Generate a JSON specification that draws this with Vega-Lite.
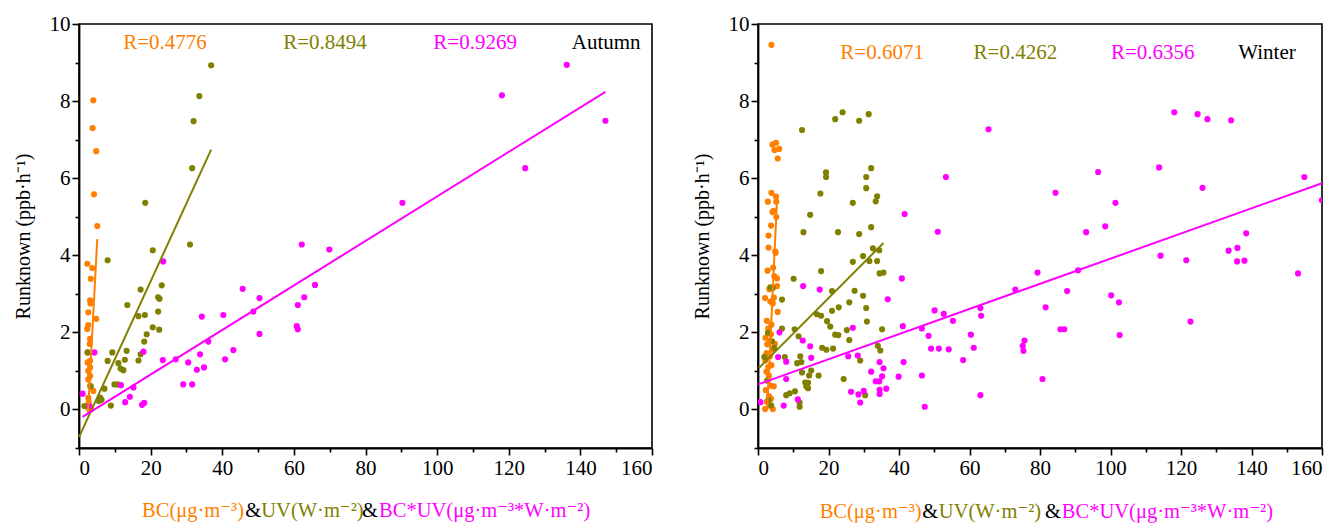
{
  "$schema": "https://vega.github.io/schema/vega-lite/v6.json",
  "padding": {"left": 12, "top": 12, "right": 5, "bottom": 5},
  "background": "white",
  "spacing": 106,
  "bounds": "flush",
  "config": {
    "font": "\"Liberation Serif\", \"Times New Roman\", serif",
    "text": {"font": "'Liberation Serif', 'Times New Roman', 'DejaVu Serif', serif"},
    "style": {
      "guide-label": {"font": "\"Liberation Serif\", \"Times New Roman\", serif"},
      "guide-title": {"font": "\"Liberation Serif\", \"Times New Roman\", serif"}
    },
    "view": {"stroke": "#000000", "strokeWidth": 1.6},
    "axis": {
      "domainColor": "#000000", "domainWidth": 1.8, "tickColor": "#000000", "tickWidth": 1.6,
      "labelFont": "\"Liberation Serif\", \"Times New Roman\", serif", "titleFont": "\"Liberation Serif\", \"Times New Roman\", serif",
      "labelFontSize": 21, "labelColor": "#000000",
      "titleFontSize": 20, "titleFontWeight": "normal", "titleColor": "#000000",
      "grid": false
    }
  },
  "datasets": {
    "autumn": [
      {"x":4.0,"y":8.02,"s":"BC"},{"x":3.8,"y":7.30,"s":"BC"},{"x":4.8,"y":6.70,"s":"BC"},{"x":4.2,"y":5.58,"s":"BC"},{"x":5.1,"y":4.76,"s":"BC"},{"x":2.3,"y":3.78,"s":"BC"},{"x":3.7,"y":3.67,"s":"BC"},{"x":3.3,"y":3.39,"s":"BC"},{"x":3.1,"y":2.83,"s":"BC"},{"x":3.2,"y":2.75,"s":"BC"},{"x":2.6,"y":2.52,"s":"BC"},{"x":4.8,"y":2.35,"s":"BC"},{"x":2.6,"y":2.19,"s":"BC"},{"x":2.3,"y":2.09,"s":"BC"},{"x":3.1,"y":1.83,"s":"BC"},{"x":3.0,"y":1.70,"s":"BC"},{"x":2.4,"y":1.48,"s":"BC"},{"x":3.1,"y":1.26,"s":"BC"},{"x":2.4,"y":1.22,"s":"BC"},{"x":3.1,"y":1.09,"s":"BC"},{"x":2.6,"y":1.00,"s":"BC"},{"x":3.1,"y":0.87,"s":"BC"},{"x":2.6,"y":0.78,"s":"BC"},{"x":3.1,"y":0.61,"s":"BC"},{"x":4.0,"y":0.48,"s":"BC"},{"x":2.6,"y":0.30,"s":"BC"},{"x":2.9,"y":0.09,"s":"BC"},{"x":2.4,"y":0.05,"s":"BC"},{"x":3.3,"y":0.0,"s":"BC"},{"x":2.7,"y":0.2,"s":"BC"},
      {"x":36.9,"y":8.93,"s":"UV"},{"x":33.6,"y":8.13,"s":"UV"},{"x":32.0,"y":7.48,"s":"UV"},{"x":31.6,"y":6.26,"s":"UV"},{"x":18.5,"y":5.36,"s":"UV"},{"x":20.6,"y":4.13,"s":"UV"},{"x":31.0,"y":4.28,"s":"UV"},{"x":8.0,"y":3.87,"s":"UV"},{"x":23.1,"y":3.22,"s":"UV"},{"x":17.2,"y":3.11,"s":"UV"},{"x":13.5,"y":2.71,"s":"UV"},{"x":22.1,"y":2.91,"s":"UV"},{"x":22.5,"y":2.87,"s":"UV"},{"x":22.1,"y":2.54,"s":"UV"},{"x":16.6,"y":2.42,"s":"UV"},{"x":18.4,"y":2.45,"s":"UV"},{"x":20.6,"y":2.13,"s":"UV"},{"x":22.4,"y":2.07,"s":"UV"},{"x":18.9,"y":1.95,"s":"UV"},{"x":18.2,"y":1.76,"s":"UV"},{"x":13.3,"y":1.52,"s":"UV"},{"x":9.3,"y":1.48,"s":"UV"},{"x":17.2,"y":1.43,"s":"UV"},{"x":8.0,"y":1.26,"s":"UV"},{"x":12.8,"y":1.29,"s":"UV"},{"x":16.6,"y":1.27,"s":"UV"},{"x":11.0,"y":1.20,"s":"UV"},{"x":11.6,"y":1.06,"s":"UV"},{"x":12.4,"y":1.02,"s":"UV"},{"x":9.9,"y":0.65,"s":"UV"},{"x":10.8,"y":0.65,"s":"UV"},{"x":7.1,"y":0.54,"s":"UV"},{"x":5.9,"y":0.31,"s":"UV"},{"x":6.3,"y":0.25,"s":"UV"},{"x":5.5,"y":0.22,"s":"UV"},{"x":8.9,"y":0.10,"s":"UV"},{"x":1.5,"y":0.09,"s":"UV"},{"x":2.4,"y":1.48,"s":"UV"},{"x":3.3,"y":0.6,"s":"UV"},
      {"x":136.2,"y":8.94,"s":"BCUV"},{"x":118.1,"y":8.15,"s":"BCUV"},{"x":147.0,"y":7.49,"s":"BCUV"},{"x":124.6,"y":6.26,"s":"BCUV"},{"x":90.3,"y":5.36,"s":"BCUV"},{"x":69.9,"y":4.15,"s":"BCUV"},{"x":62.2,"y":4.28,"s":"BCUV"},{"x":65.9,"y":3.23,"s":"BCUV"},{"x":62.9,"y":2.91,"s":"BCUV"},{"x":61.1,"y":2.71,"s":"BCUV"},{"x":60.8,"y":2.16,"s":"BCUV"},{"x":61.1,"y":2.08,"s":"BCUV"},{"x":45.7,"y":3.13,"s":"BCUV"},{"x":50.4,"y":2.89,"s":"BCUV"},{"x":48.7,"y":2.54,"s":"BCUV"},{"x":50.4,"y":1.96,"s":"BCUV"},{"x":40.3,"y":2.45,"s":"BCUV"},{"x":34.3,"y":2.41,"s":"BCUV"},{"x":43.1,"y":1.54,"s":"BCUV"},{"x":36.1,"y":1.76,"s":"BCUV"},{"x":33.8,"y":1.43,"s":"BCUV"},{"x":40.8,"y":1.30,"s":"BCUV"},{"x":27.0,"y":1.30,"s":"BCUV"},{"x":23.4,"y":1.28,"s":"BCUV"},{"x":30.5,"y":1.22,"s":"BCUV"},{"x":32.9,"y":1.03,"s":"BCUV"},{"x":34.9,"y":1.09,"s":"BCUV"},{"x":29.1,"y":0.65,"s":"BCUV"},{"x":31.6,"y":0.65,"s":"BCUV"},{"x":23.5,"y":3.84,"s":"BCUV"},{"x":4.3,"y":1.48,"s":"BCUV"},{"x":18.0,"y":1.50,"s":"BCUV"},{"x":11.7,"y":0.63,"s":"BCUV"},{"x":15.2,"y":0.57,"s":"BCUV"},{"x":14.2,"y":0.33,"s":"BCUV"},{"x":12.9,"y":0.19,"s":"BCUV"},{"x":18.2,"y":0.17,"s":"BCUV"},{"x":17.6,"y":0.12,"s":"BCUV"},{"x":1.0,"y":0.41,"s":"BCUV"},{"x":2.9,"y":0.09,"s":"BCUV"}
    ],
    "winter": [
      {"x":3.8,"y":9.46,"s":"BC"},{"x":4.1,"y":6.87,"s":"BC"},{"x":5.1,"y":6.92,"s":"BC"},{"x":4.7,"y":6.73,"s":"BC"},{"x":6.0,"y":6.76,"s":"BC"},{"x":5.6,"y":6.51,"s":"BC"},{"x":3.8,"y":5.62,"s":"BC"},{"x":2.8,"y":5.39,"s":"BC"},{"x":5.1,"y":5.52,"s":"BC"},{"x":5.2,"y":5.39,"s":"BC"},{"x":4.1,"y":5.12,"s":"BC"},{"x":5.2,"y":4.99,"s":"BC"},{"x":4.4,"y":5.15,"s":"BC"},{"x":3.0,"y":4.51,"s":"BC"},{"x":3.7,"y":4.77,"s":"BC"},{"x":3.0,"y":4.2,"s":"BC"},{"x":4.9,"y":4.1,"s":"BC"},{"x":5.0,"y":4.06,"s":"BC"},{"x":4.3,"y":3.68,"s":"BC"},{"x":4.6,"y":3.46,"s":"BC"},{"x":5.4,"y":3.4,"s":"BC"},{"x":5.4,"y":3.2,"s":"BC"},{"x":3.2,"y":3.12,"s":"BC"},{"x":2.0,"y":2.89,"s":"BC"},{"x":4.2,"y":2.75,"s":"BC"},{"x":3.5,"y":2.8,"s":"BC"},{"x":5.6,"y":2.53,"s":"BC"},{"x":2.5,"y":2.3,"s":"BC"},{"x":3.8,"y":2.2,"s":"BC"},{"x":2.9,"y":2.1,"s":"BC"},{"x":3.7,"y":1.95,"s":"BC"},{"x":2.1,"y":1.86,"s":"BC"},{"x":3.2,"y":1.78,"s":"BC"},{"x":2.6,"y":1.69,"s":"BC"},{"x":4.0,"y":1.55,"s":"BC"},{"x":2.4,"y":1.46,"s":"BC"},{"x":3.4,"y":1.38,"s":"BC"},{"x":2.1,"y":1.27,"s":"BC"},{"x":3.8,"y":1.15,"s":"BC"},{"x":2.9,"y":1.1,"s":"BC"},{"x":2.4,"y":0.98,"s":"BC"},{"x":3.1,"y":0.87,"s":"BC"},{"x":2.8,"y":0.75,"s":"BC"},{"x":3.6,"y":0.62,"s":"BC"},{"x":2.2,"y":0.5,"s":"BC"},{"x":3.1,"y":0.35,"s":"BC"},{"x":2.5,"y":0.2,"s":"BC"},{"x":2.0,"y":0.01,"s":"BC"},{"x":3.3,"y":0.1,"s":"BC"},{"x":4.2,"y":0.01,"s":"BC"},{"x":3.7,"y":0.28,"s":"BC"},{"x":4.5,"y":0.6,"s":"BC"},{"x":4.8,"y":1.7,"s":"BC"},{"x":4.5,"y":2.9,"s":"BC"},{"x":2.7,"y":3.6,"s":"BC"},
      {"x":12.5,"y":7.25,"s":"UV"},{"x":21.9,"y":7.53,"s":"UV"},{"x":24.0,"y":7.71,"s":"UV"},{"x":28.7,"y":7.49,"s":"UV"},{"x":31.4,"y":7.66,"s":"UV"},{"x":19.3,"y":6.15,"s":"UV"},{"x":19.3,"y":6.03,"s":"UV"},{"x":32.1,"y":6.26,"s":"UV"},{"x":30.7,"y":6.03,"s":"UV"},{"x":30.7,"y":5.74,"s":"UV"},{"x":17.7,"y":5.6,"s":"UV"},{"x":26.9,"y":5.36,"s":"UV"},{"x":33.8,"y":5.53,"s":"UV"},{"x":33.4,"y":5.4,"s":"UV"},{"x":14.8,"y":5.05,"s":"UV"},{"x":12.9,"y":4.6,"s":"UV"},{"x":22.7,"y":4.6,"s":"UV"},{"x":28.7,"y":4.55,"s":"UV"},{"x":32.1,"y":4.73,"s":"UV"},{"x":29.8,"y":3.98,"s":"UV"},{"x":32.6,"y":4.18,"s":"UV"},{"x":34.4,"y":4.13,"s":"UV"},{"x":31.6,"y":3.85,"s":"UV"},{"x":33.8,"y":3.85,"s":"UV"},{"x":26.9,"y":3.83,"s":"UV"},{"x":34.5,"y":3.53,"s":"UV"},{"x":35.6,"y":3.55,"s":"UV"},{"x":17.9,"y":3.59,"s":"UV"},{"x":10.1,"y":3.39,"s":"UV"},{"x":21.0,"y":3.07,"s":"UV"},{"x":27.4,"y":3.08,"s":"UV"},{"x":6.8,"y":2.85,"s":"UV"},{"x":29.8,"y":2.95,"s":"UV"},{"x":25.9,"y":2.78,"s":"UV"},{"x":22.9,"y":2.65,"s":"UV"},{"x":30.7,"y":2.63,"s":"UV"},{"x":21.0,"y":2.56,"s":"UV"},{"x":16.7,"y":2.47,"s":"UV"},{"x":17.9,"y":2.43,"s":"UV"},{"x":19.6,"y":2.29,"s":"UV"},{"x":30.9,"y":2.28,"s":"UV"},{"x":20.5,"y":2.15,"s":"UV"},{"x":6.8,"y":2.1,"s":"UV"},{"x":10.4,"y":2.08,"s":"UV"},{"x":25.2,"y":2.06,"s":"UV"},{"x":21.9,"y":1.94,"s":"UV"},{"x":22.8,"y":1.93,"s":"UV"},{"x":11.5,"y":1.9,"s":"UV"},{"x":35.2,"y":2.08,"s":"UV"},{"x":25.9,"y":1.8,"s":"UV"},{"x":2.8,"y":1.99,"s":"UV"},{"x":34.0,"y":1.65,"s":"UV"},{"x":34.7,"y":1.53,"s":"UV"},{"x":18.2,"y":1.6,"s":"UV"},{"x":19.4,"y":1.55,"s":"UV"},{"x":21.3,"y":1.58,"s":"UV"},{"x":4.0,"y":1.77,"s":"UV"},{"x":4.6,"y":1.6,"s":"UV"},{"x":1.8,"y":1.36,"s":"UV"},{"x":7.6,"y":1.36,"s":"UV"},{"x":12.0,"y":1.38,"s":"UV"},{"x":11.1,"y":1.2,"s":"UV"},{"x":12.3,"y":1.23,"s":"UV"},{"x":29.0,"y":1.27,"s":"UV"},{"x":12.5,"y":0.96,"s":"UV"},{"x":15.1,"y":1.01,"s":"UV"},{"x":14.5,"y":0.88,"s":"UV"},{"x":17.2,"y":0.88,"s":"UV"},{"x":24.3,"y":0.79,"s":"UV"},{"x":13.4,"y":0.7,"s":"UV"},{"x":14.2,"y":0.69,"s":"UV"},{"x":13.7,"y":0.6,"s":"UV"},{"x":14.2,"y":0.55,"s":"UV"},{"x":8.0,"y":0.37,"s":"UV"},{"x":9.0,"y":0.42,"s":"UV"},{"x":10.5,"y":0.47,"s":"UV"},{"x":30.4,"y":0.37,"s":"UV"},{"x":11.8,"y":0.18,"s":"UV"},{"x":11.8,"y":0.07,"s":"UV"},{"x":3.7,"y":0.11,"s":"UV"},{"x":2.6,"y":0.75,"s":"UV"},{"x":3.5,"y":3.17,"s":"UV"},{"x":4.2,"y":3.15,"s":"UV"},{"x":3.0,"y":0.25,"s":"UV"},
      {"x":118.1,"y":7.71,"s":"BCUV"},{"x":124.7,"y":7.66,"s":"BCUV"},{"x":127.5,"y":7.53,"s":"BCUV"},{"x":134.2,"y":7.5,"s":"BCUV"},{"x":96.5,"y":6.16,"s":"BCUV"},{"x":113.8,"y":6.28,"s":"BCUV"},{"x":155.0,"y":6.03,"s":"BCUV"},{"x":84.4,"y":5.62,"s":"BCUV"},{"x":101.4,"y":5.36,"s":"BCUV"},{"x":126.1,"y":5.75,"s":"BCUV"},{"x":93.1,"y":4.6,"s":"BCUV"},{"x":98.5,"y":4.75,"s":"BCUV"},{"x":138.5,"y":4.57,"s":"BCUV"},{"x":133.5,"y":4.12,"s":"BCUV"},{"x":136.0,"y":4.19,"s":"BCUV"},{"x":114.2,"y":3.99,"s":"BCUV"},{"x":121.5,"y":3.87,"s":"BCUV"},{"x":135.9,"y":3.84,"s":"BCUV"},{"x":138.0,"y":3.86,"s":"BCUV"},{"x":153.2,"y":3.53,"s":"BCUV"},{"x":79.3,"y":3.55,"s":"BCUV"},{"x":90.8,"y":3.61,"s":"BCUV"},{"x":73.0,"y":3.11,"s":"BCUV"},{"x":87.7,"y":3.07,"s":"BCUV"},{"x":100.2,"y":2.96,"s":"BCUV"},{"x":102.4,"y":2.78,"s":"BCUV"},{"x":81.6,"y":2.65,"s":"BCUV"},{"x":122.7,"y":2.28,"s":"BCUV"},{"x":85.8,"y":2.08,"s":"BCUV"},{"x":86.9,"y":2.08,"s":"BCUV"},{"x":102.6,"y":1.93,"s":"BCUV"},{"x":75.6,"y":1.79,"s":"BCUV"},{"x":75.1,"y":1.65,"s":"BCUV"},{"x":75.3,"y":1.52,"s":"BCUV"},{"x":80.7,"y":0.79,"s":"BCUV"},{"x":41.6,"y":5.07,"s":"BCUV"},{"x":51.0,"y":4.61,"s":"BCUV"},{"x":53.3,"y":6.03,"s":"BCUV"},{"x":65.4,"y":7.27,"s":"BCUV"},{"x":40.8,"y":3.4,"s":"BCUV"},{"x":36.8,"y":2.86,"s":"BCUV"},{"x":50.1,"y":2.57,"s":"BCUV"},{"x":52.7,"y":2.48,"s":"BCUV"},{"x":63.1,"y":2.63,"s":"BCUV"},{"x":63.3,"y":2.43,"s":"BCUV"},{"x":55.3,"y":2.3,"s":"BCUV"},{"x":41.1,"y":2.16,"s":"BCUV"},{"x":46.5,"y":2.1,"s":"BCUV"},{"x":48.4,"y":1.91,"s":"BCUV"},{"x":60.4,"y":1.94,"s":"BCUV"},{"x":49.1,"y":1.58,"s":"BCUV"},{"x":51.3,"y":1.58,"s":"BCUV"},{"x":54.1,"y":1.56,"s":"BCUV"},{"x":61.2,"y":1.6,"s":"BCUV"},{"x":58.2,"y":1.28,"s":"BCUV"},{"x":41.3,"y":1.23,"s":"BCUV"},{"x":63.1,"y":0.37,"s":"BCUV"},{"x":47.3,"y":0.07,"s":"BCUV"},{"x":46.5,"y":0.88,"s":"BCUV"},{"x":39.9,"y":0.85,"s":"BCUV"},{"x":35.6,"y":1.07,"s":"BCUV"},{"x":35.2,"y":0.86,"s":"BCUV"},{"x":36.4,"y":0.54,"s":"BCUV"},{"x":34.5,"y":0.51,"s":"BCUV"},{"x":34.5,"y":0.4,"s":"BCUV"},{"x":33.4,"y":0.73,"s":"BCUV"},{"x":34.4,"y":0.73,"s":"BCUV"},{"x":34.5,"y":1.23,"s":"BCUV"},{"x":32.1,"y":0.98,"s":"BCUV"},{"x":0.7,"y":0.19,"s":"BCUV"},{"x":6.1,"y":2.0,"s":"BCUV"},{"x":5.7,"y":1.36,"s":"BCUV"},{"x":8.0,"y":1.24,"s":"BCUV"},{"x":8.0,"y":0.79,"s":"BCUV"},{"x":7.3,"y":0.1,"s":"BCUV"},{"x":12.8,"y":3.2,"s":"BCUV"},{"x":17.5,"y":3.11,"s":"BCUV"},{"x":12.7,"y":1.79,"s":"BCUV"},{"x":14.8,"y":1.64,"s":"BCUV"},{"x":15.1,"y":1.34,"s":"BCUV"},{"x":11.3,"y":0.26,"s":"BCUV"},{"x":26.9,"y":2.12,"s":"BCUV"},{"x":25.6,"y":1.38,"s":"BCUV"},{"x":28.3,"y":1.4,"s":"BCUV"},{"x":26.4,"y":0.46,"s":"BCUV"},{"x":30.0,"y":0.48,"s":"BCUV"},{"x":28.5,"y":0.39,"s":"BCUV"},{"x":29.0,"y":0.18,"s":"BCUV"},{"x":160.0,"y":5.43,"s":"BCUV"}
    ],
    "fitsA": [
      {"x":2.5,"y":-0.1,"s":"BC"},{"x":5.1,"y":4.42,"s":"BC"},
      {"x":0.0,"y":-0.72,"s":"UV"},{"x":36.9,"y":6.74,"s":"UV"},
      {"x":1.0,"y":-0.19,"s":"BCUV"},{"x":147.0,"y":8.24,"s":"BCUV"}
    ],
    "fitsW": [
      {"x":2.6,"y":0.0,"s":"BC"},{"x":5.4,"y":5.45,"s":"BC"},
      {"x":0.2,"y":1.07,"s":"UV"},{"x":35.6,"y":4.32,"s":"UV"},
      {"x":0.0,"y":0.65,"s":"BCUV"},{"x":160.0,"y":5.87,"s":"BCUV"}
    ],
    "notesA": [
      {"x":24.0,"y":9.5,"t":"R=0.4776","s":"BC"},
      {"x":68.7,"y":9.5,"t":"R=0.8494","s":"UV"},
      {"x":110.6,"y":9.5,"t":"R=0.9269","s":"BCUV"},
      {"x":147.2,"y":9.5,"t":"Autumn","s":"K"}
    ],
    "notesW": [
      {"x":35.2,"y":9.26,"t":"R=0.6071","s":"BC"},
      {"x":73.0,"y":9.26,"t":"R=0.4262","s":"UV"},
      {"x":112.0,"y":9.26,"t":"R=0.6356","s":"BCUV"},
      {"x":144.4,"y":9.26,"t":"Winter","s":"K"}
    ],
    "titleA": [
      {"x":17.6,"y":-2.64,"t":"BC(μg·m⁻³)","s":"BC"},
      {"x":46.4,"y":-2.64,"t":"&","s":"K"},
      {"x":50.9,"y":-2.64,"t":"UV(W·m⁻²)","s":"UV"},
      {"x":79.0,"y":-2.64,"t":"&","s":"K"},
      {"x":83.8,"y":-2.64,"t":"BC*UV(μg·m⁻³*W·m⁻²)","s":"BCUV"}
    ],
    "titleW": [
      {"x":17.5,"y":-2.66,"t":"BC(μg·m⁻³)","s":"BC"},
      {"x":46.6,"y":-2.66,"t":"&","s":"K"},
      {"x":51.3,"y":-2.66,"t":"UV(W·m⁻²)","s":"UV"},
      {"x":81.4,"y":-2.66,"t":"&","s":"K"},
      {"x":86.2,"y":-2.66,"t":"BC*UV(μg·m⁻³*W·m⁻²)","s":"BCUV"}
    ]
  },
  "hconcat": [
    {
      "width": 573, "height": 424,
      "encoding": {
        "x": {"field": "x", "type": "quantitative", "scale": {"domain": [0, 160], "nice": false},
          "axis": {"title": null,
            "values": [0,10,20,30,40,50,60,70,80,90,100,110,120,130,140,150,160],
            "labelExpr": "datum.value % 20 === 0 ? datum.label : ''",
            "tickSize": {"condition": {"test": "datum.value % 20 === 0", "value": 7}, "value": 4}}},
        "y": {"field": "y", "type": "quantitative", "scale": {"domain": [-1, 10], "nice": false},
          "axis": {"title": "Runknown (ppb·h⁻¹)", "titlePadding": 16,
            "values": [-1,0,1,2,3,4,5,6,7,8,9,10],
            "labelExpr": "(datum.value % 2 === 0 && datum.value >= 0) ? datum.label : ''",
            "tickSize": {"condition": {"test": "datum.value % 2 === 0", "value": 7}, "value": 4}}},
        "color": {"field": "s", "type": "nominal", "legend": null,
          "scale": {"domain": ["BC","UV","BCUV","K"], "range": ["#FF7F00","#808000","#FF00FF","#000000"]}}
      },
      "layer": [
        {"data": {"name": "autumn"}, "mark": {"type": "circle", "size": 38, "opacity": 1, "clip": true}},
        {"data": {"name": "fitsA"}, "mark": {"type": "line", "strokeWidth": 2}},
        {"data": {"name": "notesA"}, "mark": {"type": "text", "fontSize": 21, "align": "center", "baseline": "middle"}, "encoding": {"text": {"field": "t"}}},
        {"data": {"name": "titleA"}, "mark": {"type": "text", "fontSize": 20.5, "align": "left", "baseline": "middle"}, "encoding": {"text": {"field": "t"}}}
      ]
    },
    {
      "width": 564, "height": 424,
      "encoding": {
        "x": {"field": "x", "type": "quantitative", "scale": {"domain": [0, 160], "nice": false},
          "axis": {"title": null,
            "values": [0,10,20,30,40,50,60,70,80,90,100,110,120,130,140,150,160],
            "labelExpr": "datum.value % 20 === 0 ? datum.label : ''",
            "tickSize": {"condition": {"test": "datum.value % 20 === 0", "value": 7}, "value": 4}}},
        "y": {"field": "y", "type": "quantitative", "scale": {"domain": [-1, 10], "nice": false},
          "axis": {"title": "Runknown (ppb·h⁻¹)", "titlePadding": 16,
            "values": [-1,0,1,2,3,4,5,6,7,8,9,10],
            "labelExpr": "(datum.value % 2 === 0 && datum.value >= 0) ? datum.label : ''",
            "tickSize": {"condition": {"test": "datum.value % 2 === 0", "value": 7}, "value": 4}}},
        "color": {"field": "s", "type": "nominal", "legend": null,
          "scale": {"domain": ["BC","UV","BCUV","K"], "range": ["#FF7F00","#808000","#FF00FF","#000000"]}}
      },
      "layer": [
        {"data": {"name": "winter"}, "mark": {"type": "circle", "size": 38, "opacity": 1, "clip": true}},
        {"data": {"name": "fitsW"}, "mark": {"type": "line", "strokeWidth": 2}},
        {"data": {"name": "notesW"}, "mark": {"type": "text", "fontSize": 21, "align": "center", "baseline": "middle"}, "encoding": {"text": {"field": "t"}}},
        {"data": {"name": "titleW"}, "mark": {"type": "text", "fontSize": 20.5, "align": "left", "baseline": "middle"}, "encoding": {"text": {"field": "t"}}}
      ]
    }
  ]
}
